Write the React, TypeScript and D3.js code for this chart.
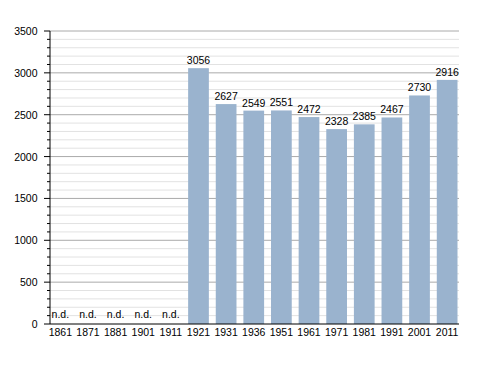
import React from 'react';
import * as d3 from 'd3';

const years = ['1861', '1871', '1881', '1901', '1911', '1921', '1931', '1936', '1951', '1961', '1971', '1981', '1991', '2001', '2011'];
const population: (number | null)[] = [null, null, null, null, null, 3056, 2627, 2549, 2551, 2472, 2328, 2385, 2467, 2730, 2916];
const majorTicks = [0, 500, 1000, 1500, 2000, 2500, 3000, 3500];

const App = () => {
  const width = 488;
  const height = 373;
  const margin = { top: 31, right: 29, bottom: 49, left: 50 };
  const innerW = width - margin.left - margin.right;
  const innerH = height - margin.top - margin.bottom;

  // bars stop just short of the right end of the grid
  const x = d3.scaleBand().domain(years).range([0, innerW - 1.5]).paddingInner(0.25).paddingOuter(0);
  const y = d3.scaleLinear().domain([0, 3500]).range([innerH, 0]);
  const minorTicks = d3.range(0, 3501, 100).filter(v => v % 500 !== 0);
  const font = 'Liberation Sans, Arial, sans-serif';
  const fs = 10.5;

  return (
    <svg width={width} height={height} style={{ position: 'absolute', left: 0, top: 0 }} fontFamily={font}>
      <rect width={width} height={height} fill="#fff" />
      <g transform={`translate(${margin.left},${margin.top})`}>
        {minorTicks.map(v => (
          <g key={'m' + v}>
            <line x1={0} x2={innerW} y1={y(v)} y2={y(v)} stroke="#e2e2e2" />
            <line x1={-3} x2={0} y1={y(v)} y2={y(v)} stroke="#000" />
          </g>
        ))}
        {majorTicks.map(v => (
          <g key={'M' + v}>
            {v > 0 && <line x1={0} x2={innerW} y1={y(v)} y2={y(v)} stroke="#aaa" />}
            <line x1={-6} x2={0} y1={y(v)} y2={y(v)} stroke="#000" />
            <text x={-12.5} y={y(v) + 4} textAnchor="end" fontSize={fs} fill="#000">{v}</text>
          </g>
        ))}
        {years.map((yr, i) => {
          const v = population[i];
          const bx = x(yr)!;
          const cx = bx + x.bandwidth() / 2;
          return (
            <g key={yr}>
              {v !== null && <rect x={bx} y={y(v)} width={x.bandwidth()} height={innerH - y(v)} fill="#9ab3ce" />}
              <text x={cx} y={v !== null ? y(v) - 4 : innerH - 6} textAnchor="middle" fontSize={fs} fill="#000">
                {v !== null ? v : 'n.d.'}
              </text>
              <text x={cx} y={innerH + 12} textAnchor="middle" fontSize={fs} fill="#000">{yr}</text>
            </g>
          );
        })}
        <line x1={0} x2={0} y1={0} y2={innerH} stroke="#000" />
        <line x1={0} x2={innerW} y1={innerH} y2={innerH} stroke="#000" />
      </g>
    </svg>
  );
};

export default App;
